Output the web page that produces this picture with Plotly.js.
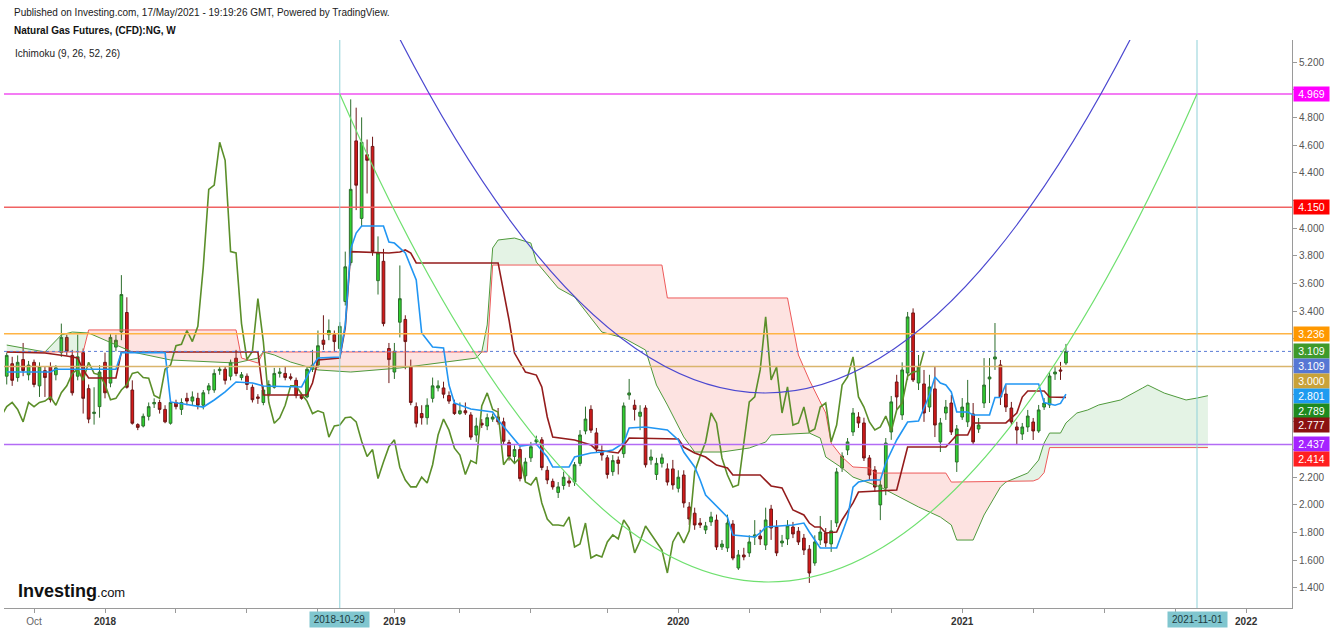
<!DOCTYPE html>
<html>
<head>
<meta charset="utf-8">
<script src="https://cdn.plot.ly/plotly-3.0.1.min.js"></script>
<style>
  html, body { margin: 0; padding: 0; background: #fff; overflow: hidden; }
  #chart { width: 1332px; height: 633px; }
</style>
</head>
<body>
<div id="chart"></div>
<script>
// ---------------- DATA ----------------
// Week index = number of weeks since Monday 2018-01-01 (weekly bars, Natural Gas CFD)
const weekOrigin = '2018-01-01';
const firstCandleWeek = -18; // 2017-08-28

const openP = [
  2.93, 3.02, 2.92, 3.05, 2.94, 3.03, 2.86, 2.97, 3.00, 2.94,
  3.10, 3.21, 3.08, 2.93, 3.10, 2.84, 2.66, 2.71, 3.03, 2.88,
  3.14, 3.25, 3.39, 2.83, 2.58, 2.57, 2.64, 2.73, 2.74, 2.69,
  2.59, 2.74, 2.69, 2.77, 2.75, 2.77, 2.72, 2.83, 2.83, 2.97,
  2.98, 2.93, 3.06, 2.92, 2.93, 2.85, 2.78, 2.74, 2.80, 2.85,
  2.95, 2.95, 2.925, 2.90, 2.79, 2.78, 2.98, 3.01, 3.19, 3.23,
  3.23, 3.13, 3.47, 3.75, 4.63, 4.07, 4.53, 4.59, 3.62, 3.76,
  3.13, 2.96, 3.32, 3.34, 3.00, 2.71, 2.66, 2.63, 2.77, 2.845,
  2.845, 2.79, 2.73, 2.66, 2.68, 2.65, 2.505, 2.59, 2.57, 2.62,
  2.635, 2.60, 2.45, 2.35, 2.40, 2.21, 2.34, 2.455, 2.47, 2.25,
  2.17, 2.09, 2.14, 2.173, 2.165, 2.30, 2.534, 2.69, 2.52, 2.38,
  2.34, 2.24, 2.324, 2.37, 2.794, 2.72, 2.64, 2.70, 2.324, 2.22,
  2.30, 2.26, 2.26, 2.12, 2.216, 1.985, 1.94, 1.869, 1.819, 1.877,
  1.89, 1.696, 1.689, 1.862, 1.544, 1.638, 1.653, 1.768, 1.775, 1.71,
  1.97, 1.84, 1.725, 1.754, 1.84, 1.81, 1.76, 1.68, 1.58, 1.746,
  1.797, 1.718, 1.87, 2.267, 2.397, 2.527, 2.635, 2.592, 2.339, 2.252,
  2.00, 2.122, 2.527, 2.888, 2.65, 2.953, 3.387, 2.881, 2.874, 2.707,
  2.838, 2.455, 2.664, 2.736, 2.31, 2.635, 2.60, 2.657, 2.548, 2.736,
  2.91, 3.054, 3.011, 2.801, 2.70, 2.563, 2.512, 2.563, 2.599, 2.534,
  2.707, 2.722, 2.946, 2.975, 3.025
];
const highP = [
  3.10, 3.07, 3.08, 3.17, 3.04, 3.05, 3.03, 3.00, 3.03, 3.01,
  3.31, 3.23, 3.12, 3.23, 3.13, 2.87, 2.85, 3.01, 3.10, 3.24,
  3.23, 3.66, 3.50, 2.90, 2.59, 2.66, 2.74, 2.77, 2.76, 2.72,
  2.76, 2.76, 2.77, 2.81, 2.82, 2.81, 2.83, 2.88, 2.98, 3.00,
  3.00, 3.05, 3.12, 2.96, 2.95, 2.87, 2.80, 2.86, 2.90, 2.99,
  2.99, 3.00, 2.95, 2.92, 2.81, 3.00, 3.12, 3.26, 3.37, 3.34,
  3.26, 3.32, 3.83, 4.93, 4.87, 4.80, 4.64, 4.66, 3.94, 3.85,
  3.17, 3.17, 3.73, 3.37, 3.05, 2.74, 2.72, 2.77, 2.92, 2.90,
  2.89, 2.82, 2.76, 2.74, 2.74, 2.67, 2.63, 2.62, 2.66, 2.66,
  2.70, 2.63, 2.47, 2.43, 2.42, 2.34, 2.455, 2.50, 2.49, 2.28,
  2.19, 2.165, 2.24, 2.21, 2.31, 2.54, 2.71, 2.72, 2.556, 2.43,
  2.36, 2.36, 2.35, 2.74, 2.91, 2.76, 2.72, 2.72, 2.40, 2.34,
  2.37, 2.30, 2.325, 2.25, 2.25, 2.02, 1.98, 1.905, 1.877, 1.95,
  1.93, 1.746, 1.93, 1.89, 1.674, 1.69, 1.78, 1.89, 1.82, 1.98,
  2.00, 1.89, 1.783, 1.89, 1.877, 1.84, 1.79, 1.71, 1.78, 1.92,
  1.833, 1.89, 2.267, 2.38, 2.483, 2.70, 2.67, 2.63, 2.36, 2.28,
  2.18, 2.483, 2.787, 2.94, 3.03, 3.394, 3.42, 3.083, 2.975, 2.94,
  2.996, 2.628, 2.758, 2.794, 2.577, 2.772, 2.903, 2.736, 2.628, 3.061,
  3.061, 3.314, 3.047, 2.866, 2.744, 2.60, 2.592, 2.686, 2.628, 2.722,
  2.772, 2.96, 2.996, 3.033, 3.163
];
const lowP = [
  2.87, 2.86, 2.89, 2.93, 2.90, 2.85, 2.78, 2.78, 2.74, 2.90,
  3.07, 3.08, 2.79, 2.90, 2.66, 2.59, 2.58, 2.63, 2.77, 2.85,
  3.11, 3.19, 2.84, 2.58, 2.54, 2.56, 2.61, 2.70, 2.66, 2.59,
  2.58, 2.69, 2.65, 2.72, 2.72, 2.69, 2.69, 2.80, 2.81, 2.94,
  2.87, 2.90, 2.93, 2.90, 2.83, 2.74, 2.73, 2.72, 2.78, 2.84,
  2.92, 2.90, 2.90, 2.77, 2.76, 2.77, 2.96, 2.99, 3.12, 3.19,
  3.11, 3.11, 3.44, 3.73, 4.13, 4.01, 4.25, 3.80, 3.52, 3.29,
  2.88, 2.91, 3.21, 2.98, 2.72, 2.56, 2.58, 2.58, 2.74, 2.82,
  2.77, 2.73, 2.65, 2.65, 2.65, 2.47, 2.455, 2.556, 2.54, 2.60,
  2.58, 2.44, 2.32, 2.31, 2.17, 2.165, 2.31, 2.43, 2.25, 2.15,
  2.11, 2.05, 2.11, 2.13, 2.137, 2.28, 2.51, 2.52, 2.38, 2.32,
  2.19, 2.21, 2.22, 2.34, 2.76, 2.61, 2.54, 2.27, 2.29, 2.18,
  2.27, 2.14, 2.11, 2.09, 1.98, 1.855, 1.82, 1.833, 1.79, 1.848,
  1.674, 1.674, 1.66, 1.60, 1.53, 1.60, 1.624, 1.71, 1.71, 1.674,
  1.747, 1.63, 1.696, 1.71, 1.76, 1.71, 1.638, 1.436, 1.56, 1.71,
  1.696, 1.66, 1.84, 2.238, 2.36, 2.498, 2.556, 2.317, 2.18, 2.093,
  1.89, 2.07, 2.47, 2.686, 2.614, 2.903, 2.888, 2.83, 2.60, 2.671,
  2.49, 2.382, 2.614, 2.505, 2.238, 2.614, 2.563, 2.433, 2.52, 2.70,
  2.736, 2.975, 2.722, 2.671, 2.577, 2.433, 2.469, 2.527, 2.469, 2.52,
  2.686, 2.70, 2.903, 2.903, 3.011
];
const closeP = [
  3.08, 2.90, 3.03, 2.97, 3.01, 2.87, 3.00, 2.92, 2.76, 2.99,
  3.21, 3.11, 2.81, 3.07, 2.77, 2.62, 2.67, 2.96, 2.81, 3.21,
  3.19, 3.52, 2.85, 2.59, 2.56, 2.64, 2.71, 2.74, 2.69, 2.60,
  2.74, 2.71, 2.74, 2.75, 2.78, 2.72, 2.81, 2.86, 2.95, 2.98,
  2.90, 3.03, 2.95, 2.94, 2.87, 2.76, 2.77, 2.83, 2.87, 2.95,
  2.96, 2.92, 2.915, 2.79, 2.77, 2.98, 3.01, 3.15, 3.16, 3.26,
  3.18, 3.29, 3.72, 4.28, 4.31, 4.62, 4.49, 3.83, 3.82, 3.31,
  3.05, 3.11, 3.49, 3.18, 2.74, 2.59, 2.63, 2.72, 2.86, 2.86,
  2.80, 2.75, 2.66, 2.68, 2.665, 2.49, 2.57, 2.577, 2.63, 2.635,
  2.60, 2.46, 2.35, 2.40, 2.19, 2.31, 2.42, 2.47, 2.27, 2.18,
  2.13, 2.13, 2.20, 2.158, 2.29, 2.505, 2.62, 2.54, 2.41, 2.36,
  2.22, 2.32, 2.30, 2.715, 2.809, 2.69, 2.67, 2.29, 2.346, 2.30,
  2.34, 2.165, 2.144, 2.20, 2.014, 1.898, 1.855, 1.855, 1.848, 1.913,
  1.696, 1.717, 1.869, 1.616, 1.638, 1.624, 1.732, 1.783, 1.754, 1.891,
  1.833, 1.653, 1.739, 1.848, 1.79, 1.732, 1.674, 1.508, 1.732, 1.804,
  1.725, 1.812, 2.238, 2.353, 2.455, 2.664, 2.592, 2.339, 2.216, 2.129,
  2.144, 2.447, 2.744, 2.78, 2.975, 3.358, 2.903, 2.996, 2.664, 2.852,
  2.577, 2.592, 2.707, 2.527, 2.549, 2.707, 2.736, 2.455, 2.577, 2.866,
  2.924, 3.069, 2.78, 2.707, 2.599, 2.541, 2.563, 2.642, 2.534, 2.686,
  2.736, 2.931, 2.96, 2.967, 3.109
];

// Ichimoku lines (week index, price)
const tenkanWeek = [-18,-10,-9,2,3,11,12,18,20,22,24,27,29,36,38,39,43,44,45,46,47,51,52,53,55,57,58,60,62,63,64,67,71,72,74,76,79,81,82,85,86,89,91,93,95,96,99,103,105,106,108,109,110,113,114,115,119,120,121,126,128,129,130,131,134,135,136,137,138,140,142,143,145,147,149,151,152,153,154,155,156,158,159,162,163,164,165,171,172,174,175,176];
const tenkanVal = [2.96,2.96,2.98,2.98,3.10,3.10,2.744,2.707,2.758,2.816,2.888,2.881,2.859,2.852,3.003,3.061,3.069,3.30,3.85,3.964,4.015,4.015,3.899,3.892,3.82,3.625,3.242,3.141,3.134,2.866,2.736,2.693,2.671,2.613,2.519,2.425,2.44,2.346,2.274,2.274,2.346,2.375,2.382,2.397,2.447,2.556,2.563,2.541,2.469,2.382,2.274,2.18,2.071,1.948,1.912,1.782,1.768,1.797,1.84,1.855,1.869,1.804,1.746,1.688,1.688,1.804,1.905,2.129,2.165,2.18,2.18,2.303,2.469,2.599,2.606,2.794,2.924,2.881,2.866,2.816,2.671,2.671,2.649,2.65,2.776,2.776,2.873,2.873,2.74,2.72,2.733,2.801];

const kijunWeek = [-18,-11,-7,-5,-4,-3,2,3,28,29,37,38,39,43,44,45,52,54,55,56,57,72,74,75,77,79,80,81,82,85,86,89,90,94,95,96,105,106,108,110,112,114,115,120,122,124,126,128,129,130,131,132,134,135,137,138,145,146,147,154,156,158,159,165,167,168,169,172,173,176];
const kijunVal = [3.105,3.098,3.076,3.061,2.975,2.917,2.917,3.105,3.105,2.794,2.794,2.881,3.047,3.061,3.28,3.83,3.82,3.827,3.842,3.82,3.748,3.748,3.336,3.097,2.96,2.938,2.852,2.635,2.49,2.476,2.469,2.433,2.397,2.375,2.433,2.483,2.476,2.418,2.375,2.346,2.288,2.267,2.216,2.216,2.137,2.122,1.963,1.927,1.869,1.84,1.84,1.797,1.804,1.891,2.014,2.093,2.108,2.274,2.418,2.418,2.505,2.505,2.592,2.592,2.664,2.779,2.823,2.823,2.779,2.777];

const senkouAWeek = [-18,-11,-8,-6,-3,0,5,12,24,28,29,31,34,39,45,54,63,68,69,70,71,72,75,78,79,81,83,86,89,91,95,99,101,103,106,108,113,118,121,122,129,131,132,135,137,142,149,153,155,156,159,161,164,165,169,171,172,173,175,176,178,180,182,186,190,191,194,198,200,202];
const senkouAVal = [3.155,3.105,3.228,3.249,3.242,3.191,3.105,3.047,3.025,3.061,3.105,3.083,3.032,2.975,2.96,2.989,3.032,3.061,3.105,3.30,3.856,3.914,3.928,3.892,3.755,3.661,3.567,3.502,3.35,3.249,3.206,3.119,2.866,2.722,2.491,2.382,2.382,2.411,2.454,2.505,2.519,2.483,2.346,2.267,2.201,2.129,1.985,1.912,1.855,1.746,1.746,1.927,2.129,2.165,2.23,2.324,2.447,2.519,2.519,2.592,2.664,2.686,2.722,2.758,2.844,2.866,2.808,2.758,2.772,2.789];

const senkouBWeek = [-18,-4,-3,24,25,28,29,70,71,102,103,125,127,129,132,133,135,137,140,141,154,155,170,171,172,173,202];
const senkouBVal = [3.105,3.105,3.264,3.264,3.061,3.025,3.105,3.105,3.733,3.733,3.495,3.495,3.083,2.902,2.664,2.447,2.346,2.274,2.267,2.23,2.23,2.165,2.173,2.188,2.233,2.414,2.414];

const laggingShift = 26;

// Drawings
const hLevels = [4.969, 4.150, 3.236, 3.000, 2.437];
const hColors = ['#f050f0', '#f06262', '#ffb444', '#d9b56c', '#b36bf5'];
const markerDates = ['2018-10-29', '2021-11-01'];
// quadratic curves: [start week, start price, control week, control price, end week, end price]
const greenCurve = [43, 4.969, 121.5, -2.083, 200, 4.969];
const blueCurve = [50.4, 5.648, 120.9, -0.031, 191.4, 5.648];

// Right price labels
const priceLabelValues = [4.969, 4.150, 3.236, 3.109, 3.109, 3.000, 2.801, 2.789, 2.777, 2.437, 2.414];
const priceLabelColors = ['#ff00ff', '#ff0000', '#ff9800', '#3f9a2a', '#5677d4', '#c9a23a', '#1e9bf0', '#1f8a1f', '#8b1111', '#a522ff', '#ff1f1f'];

// X axis ticks
const tickDates = ['2017-10-02','2018-01-01','2018-04-02','2018-07-02','2018-10-01','2019-01-07','2019-04-01','2019-07-01','2019-10-07','2020-01-06','2020-04-06','2020-07-06','2020-10-05','2021-01-04','2021-04-05','2021-07-05','2021-10-04','2022-01-03'];
const tickLabels = ['Oct','2018','','','','2019','','','','2020','','','','2021','','','','2022'];

const yTicks = [1.4,1.6,1.8,2.0,2.2,2.4,2.6,2.8,3.0,3.2,3.4,3.6,3.8,4.0,4.2,4.4,4.6,4.8,5.0,5.2];

// ---------------- LAYOUT CONSTANTS ----------------
const W = 1332, H = 633;
const M = {l: 4, r: 40, t: 40, b: 25};
const plotW = W - M.l - M.r, plotH = H - M.t - M.b;
const xRange = [-18.5, 217.4];
const yRange = [1.255, 5.359];
const FONT = 'Liberation Sans, Arial, sans-serif';

const DAY = 86400000;
function weekOf(dateStr) {
  return Math.round((Date.parse(dateStr + 'T00:00:00Z') - Date.parse(weekOrigin + 'T00:00:00Z')) / (7 * DAY));
}
const candleWeeks = openP.map((_, i) => firstCandleWeek + i);

// ---------------- CLOUD ----------------
function interp(xs, ys, x) {
  if (x <= xs[0]) return ys[0];
  for (let i = 1; i < xs.length; i++) {
    if (x <= xs[i]) {
      const t = (x - xs[i - 1]) / (xs[i] - xs[i - 1]);
      return ys[i - 1] + t * (ys[i] - ys[i - 1]);
    }
  }
  return ys[ys.length - 1];
}
const grid = Array.from(new Set([...senkouAWeek, ...senkouBWeek])).sort((a, b) => a - b);
const runs = [];
let cur = null;
grid.forEach(x => {
  const a = interp(senkouAWeek, senkouAVal, x), b = interp(senkouBWeek, senkouBVal, x);
  let s = Math.sign(b - a);
  if (s === 0) s = cur ? cur.s : 1;
  if (!cur) { cur = {s, pts: [[x, a, b]]}; return; }
  if (s !== cur.s) {
    const [px, pa, pb] = cur.pts[cur.pts.length - 1];
    const dp = pb - pa, dc = b - a;
    const t = dp / (dp - dc);
    const cx = px + t * (x - px), cy = pa + t * (a - pa);
    cur.pts.push([cx, cy, cy]);
    runs.push(cur);
    cur = {s, pts: [[cx, cy, cy], [x, a, b]]};
  } else {
    cur.pts.push([x, a, b]);
  }
});
runs.push(cur);

const traces = [];
runs.forEach(r => {
  const xs = r.pts.map(p => p[0]).concat(r.pts.map(p => p[0]).reverse());
  const ys = r.pts.map(p => p[1]).concat(r.pts.map(p => p[2]).reverse());
  traces.push({
    type: 'scatter', mode: 'lines', x: xs, y: ys, fill: 'toself',
    fillcolor: r.s > 0 ? 'rgba(244,67,54,0.15)' : 'rgba(76,175,80,0.15)',
    line: {width: 0}, hoverinfo: 'skip'
  });
});

traces.push({type: 'scatter', mode: 'lines', x: senkouAWeek, y: senkouAVal, line: {color: '#4f9a3c', width: 1}, hoverinfo: 'skip'});
traces.push({type: 'scatter', mode: 'lines', x: senkouBWeek, y: senkouBVal, line: {color: '#ee5a5a', width: 1}, hoverinfo: 'skip'});
traces.push({type: 'scatter', mode: 'lines', x: candleWeeks.map(w => w - laggingShift), y: closeP, line: {color: '#5b8f2a', width: 1.6}, hoverinfo: 'skip'});
traces.push({type: 'scatter', mode: 'lines', x: kijunWeek, y: kijunVal, line: {color: '#941c1c', width: 1.6}, hoverinfo: 'skip'});
traces.push({type: 'scatter', mode: 'lines', x: tenkanWeek, y: tenkanVal, line: {color: '#2196f3', width: 1.6}, hoverinfo: 'skip'});
traces.push({
  type: 'candlestick', x: candleWeeks, open: openP, high: highP, low: lowP, close: closeP,
  increasing: {line: {color: '#2d6e2d', width: 1}, fillcolor: '#2fd12f'},
  decreasing: {line: {color: '#6e1616', width: 1}, fillcolor: '#d41a1a'},
  whiskerwidth: 0, hoverinfo: 'skip'
});

// ---------------- SHAPES ----------------
const shapes = [];
hLevels.forEach((v, i) => shapes.push({
  type: 'line', xref: 'paper', x0: 0, x1: 1, yref: 'y', y0: v, y1: v,
  line: {color: hColors[i], width: 1.5}, layer: 'above'
}));
const lastClose = closeP[closeP.length - 1];
shapes.push({type: 'line', xref: 'paper', x0: 0, x1: 1, yref: 'y', y0: lastClose, y1: lastClose,
  line: {color: '#5b7bd5', width: 1, dash: 'dot'}, layer: 'above'});
markerDates.forEach(d => shapes.push({
  type: 'line', xref: 'x', x0: weekOf(d), x1: weekOf(d), yref: 'paper', y0: 0, y1: 1,
  line: {color: '#8fd1d8', width: 1}, layer: 'above'
}));
function qPath(c) { return `M ${c[0]},${c[1]} Q ${c[2]},${c[3]} ${c[4]},${c[5]}`; }
shapes.push({type: 'path', xref: 'x', yref: 'y', path: qPath(blueCurve), line: {color: '#4b48d0', width: 1.2}, layer: 'above'});
shapes.push({type: 'path', xref: 'x', yref: 'y', path: qPath(greenCurve), line: {color: '#6fe06f', width: 1.2}, layer: 'above'});

// ---------------- ANNOTATIONS ----------------
const pxX = x => (x - M.l) / plotW;
const pxY = y => (H - M.b - y) / plotH;
const annotations = [];
annotations.push({xref: 'paper', yref: 'paper', x: pxX(12), y: pxY(13), xanchor: 'left', yanchor: 'middle', showarrow: false,
  text: 'Published on Investing.com, 17/May/2021 - 19:19:26 GMT, Powered by TradingView.', font: {family: FONT, size: 10, color: '#1a1a1a'}});
annotations.push({xref: 'paper', yref: 'paper', x: pxX(12), y: pxY(31), xanchor: 'left', yanchor: 'middle', showarrow: false,
  text: '<b>Natural Gas Futures, (CFD):NG, W</b>', font: {family: FONT, size: 10, color: '#111'}});
annotations.push({xref: 'paper', yref: 'paper', x: pxX(13), y: pxY(54), xanchor: 'left', yanchor: 'middle', showarrow: false,
  text: 'Ichimoku (9, 26, 52, 26)', font: {family: FONT, size: 10, color: '#222'}});
annotations.push({xref: 'paper', yref: 'paper', x: pxX(16), y: pxY(591), xanchor: 'left', yanchor: 'middle', showarrow: false,
  text: '<b>Investing</b><span style="font-size:13px">.com</span>', font: {family: FONT, size: 18, color: '#111'}});

// stacked price labels
const pxPerUnit = plotH / (yRange[1] - yRange[0]);
const valToPx = v => M.t + (yRange[1] - v) * pxPerUnit;
const order = priceLabelValues.map((v, i) => i).sort((a, b) => (priceLabelValues[b] - priceLabelValues[a]) || (a - b));
let lastPx = -Infinity;
const labelPx = [];
order.forEach(i => {
  let p = valToPx(priceLabelValues[i]);
  if (p < lastPx + 14.8) p = lastPx + 14.8;
  lastPx = p;
  labelPx.push(p);
  annotations.push({xref: 'paper', yref: 'paper', x: 1, xshift: 1, y: pxY(p), xanchor: 'left', yanchor: 'middle', showarrow: false,
    text: priceLabelValues[i].toFixed(3), bgcolor: priceLabelColors[i], width: 34, height: 13, borderpad: 0.5,
    font: {family: FONT, size: 10.5, color: '#ffffff'}});
});
// tick labels hidden behind a price label box are left blank (the box covers them)
const yTickText = yTicks.map(v => labelPx.some(p => Math.abs(p - valToPx(v)) < 13) ? '' : v.toFixed(3));

markerDates.forEach(d => annotations.push({
  xref: 'x', yref: 'paper', x: weekOf(d), y: 0, yshift: -3, xanchor: 'center', yanchor: 'top', showarrow: false,
  text: d, bgcolor: '#80c6cf', width: 58, height: 14, borderpad: 0.5,
  font: {family: FONT, size: 10, color: '#1c3a40'}
}));

// ---------------- LAYOUT ----------------
const layout = {
  width: W, height: H,
  margin: M,
  paper_bgcolor: '#ffffff', plot_bgcolor: '#ffffff',
  showlegend: false, hovermode: false, dragmode: false,
  xaxis: {
    type: 'linear', range: xRange, showgrid: false, zeroline: false,
    showline: true, linecolor: '#9a9a9a', linewidth: 1,
    ticks: 'outside', ticklen: 4, tickcolor: '#9a9a9a',
    tickvals: tickDates.map(weekOf),
    ticktext: tickLabels.map(t => t === 'Oct' ? '<span style="color:#666">Oct</span>' : (t ? '<b>' + t + '</b>' : '')),
    tickfont: {family: FONT, size: 10, color: '#333'},
    rangeslider: {visible: false}, fixedrange: true
  },
  yaxis: {
    side: 'right', range: yRange, showgrid: false, zeroline: false,
    showline: true, linecolor: '#9a9a9a', linewidth: 1,
    ticks: 'outside', ticklen: 4, tickcolor: '#9a9a9a',
    tickvals: yTicks, ticktext: yTickText,
    tickfont: {family: FONT, size: 10, color: '#555'}, fixedrange: true
  },
  shapes: shapes,
  annotations: annotations
};

Plotly.newPlot('chart', traces, layout, {staticPlot: true, displayModeBar: false});
</script>
</body>
</html>
